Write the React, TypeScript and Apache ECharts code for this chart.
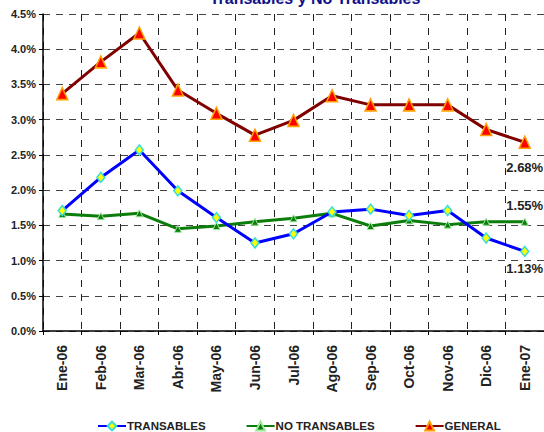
import React, { useEffect, useRef } from "react";
import * as echarts from "echarts";

const categories = ["Ene-06", "Feb-06", "Mar-06", "Abr-06", "May-06", "Jun-06", "Jul-06", "Ago-06", "Sep-06", "Oct-06", "Nov-06", "Dic-06", "Ene-07"];
const transables = [1.71, 2.18, 2.57, 1.99, 1.61, 1.25, 1.38, 1.69, 1.73, 1.64, 1.71, 1.32, 1.13];
const noTransables = [1.66, 1.63, 1.67, 1.45, 1.49, 1.55, 1.60, 1.67, 1.49, 1.57, 1.51, 1.55, 1.55];
const general = [3.37, 3.82, 4.23, 3.42, 3.09, 2.78, 2.99, 3.34, 3.21, 3.21, 3.21, 2.86, 2.68];
const yTicks = { min: 0, max: 4.5, interval: 0.5 };
const title = "Transables y No Transables";

const FONT = "Arial, 'Liberation Sans', sans-serif";

function withEndLabel(values: number[], position: string, distance: number) {
  const last = values.length - 1;
  return values.map((v, i) =>
    i === last
      ? {
          value: v,
          label: {
            show: true,
            position,
            distance,
            formatter: (p: any) => Number(p.value).toFixed(2) + "%",
            fontFamily: FONT,
            fontWeight: "bold",
            fontSize: 13,
            color: "#222",
          },
        }
      : v
  );
}

export default function App() {
  const ref = useRef<HTMLDivElement>(null);
  useEffect(() => {
    if (!ref.current) return;
    const chart = echarts.init(ref.current, null, { renderer: "svg" });
    chart.setOption({
      animation: false,
      backgroundColor: "#ffffff",
      textStyle: { fontFamily: FONT },
      graphic: [
        {
          type: "text",
          x: 315,
          y: 6,
          style: {
            text: title,
            fill: "#10108a",
            font: `bold 16px ${FONT}`,
            textAlign: "center",
            textVerticalAlign: "bottom",
          },
        },
      ],
      legend: {
        top: 420,
        left: 97,
        padding: 0,
        itemWidth: 28,
        itemHeight: 11,
        itemGap: 40,
        textStyle: { fontFamily: FONT, fontWeight: "bold", fontSize: 11.5, color: "#222", padding: [0, 0, 0, -4] },
        data: ["TRANSABLES", "NO TRANSABLES", "GENERAL"],
      },
      grid: { left: 43, right: -6, top: 14, bottom: 101, containLabel: false },
      xAxis: {
        type: "category",
        data: categories,
        boundaryGap: true,
        axisLine: { show: true, lineStyle: { color: "#000", width: 1.5 } },
        axisTick: { show: true, length: 4, interval: 0, lineStyle: { color: "#000" } },
        axisLabel: {
          rotate: 90,
          interval: 0,
          margin: 14,
          fontFamily: FONT,
          fontWeight: "bold",
          fontSize: 14,
          color: "#222",
        },
        splitLine: { show: true, interval: 0, lineStyle: { color: "#222", type: [7, 7], width: 1 } },
      },
      yAxis: {
        type: "value",
        min: yTicks.min,
        max: yTicks.max,
        interval: yTicks.interval,
        axisLine: { show: true, lineStyle: { color: "#000", width: 1.5 } },
        axisTick: { show: true, length: 4, lineStyle: { color: "#000" } },
        axisLabel: {
          formatter: (v: number) => v.toFixed(1) + "%",
          fontFamily: FONT,
          fontWeight: "bold",
          fontSize: 11,
          color: "#222",
          margin: 7,
        },
        splitLine: { show: true, lineStyle: { color: "#444", type: [7, 6], width: 1 } },
      },
      series: [
        {
          name: "TRANSABLES",
          type: "line",
          data: withEndLabel(transables, "bottom", 5),
          symbol: "diamond",
          symbolSize: [8, 10],
          lineStyle: { color: "#0000ff", width: 3 },
          itemStyle: { color: "#ffff00", borderColor: "#33dddd", borderWidth: 1.5 },
          z: 3,
        },
        {
          name: "NO TRANSABLES",
          type: "line",
          data: withEndLabel(noTransables, "top", 6),
          symbol: "triangle",
          symbolSize: 7,
          lineStyle: { color: "#0a7d0a", width: 3 },
          itemStyle: { color: "#0a7d0a", borderColor: "#9be89b", borderWidth: 1 },
          z: 2,
        },
        {
          name: "GENERAL",
          type: "line",
          data: withEndLabel(general, "bottom", 12),
          symbol: "triangle",
          symbolSize: [11, 12],
          lineStyle: { color: "#800000", width: 3 },
          itemStyle: { color: "#ff0000", borderColor: "#ffa000", borderWidth: 1.5 },
          z: 4,
        },
      ],
    });
    return () => chart.dispose();
  }, []);
  return <div ref={ref} style={{ width: 544, height: 432, position: "absolute", left: 0, top: 0 }} />;
}
